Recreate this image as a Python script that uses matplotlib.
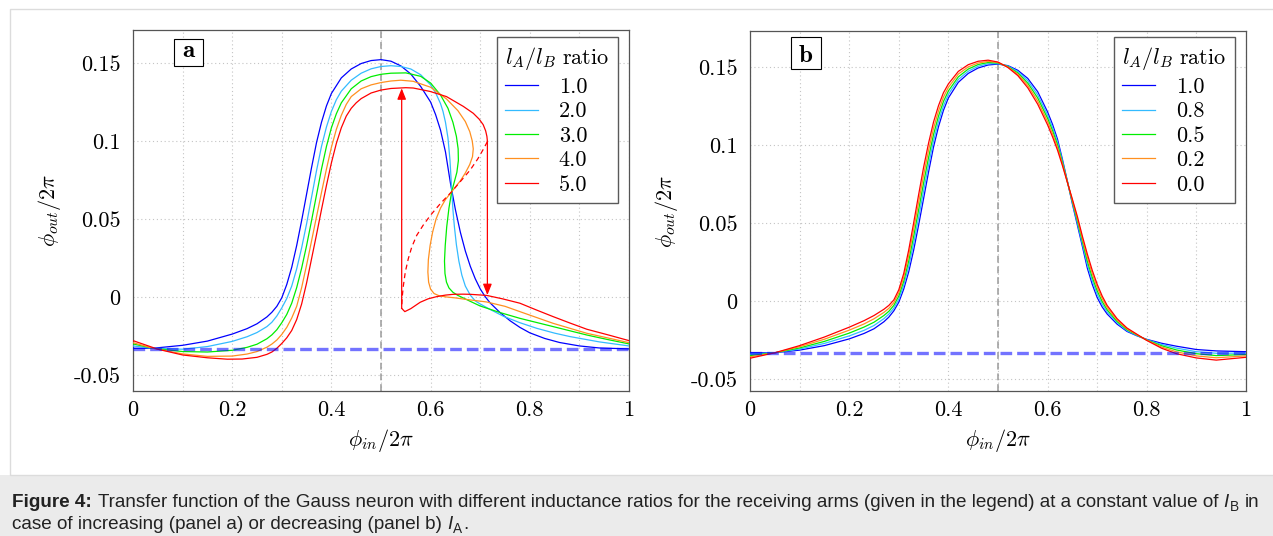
import matplotlib
matplotlib.use("Agg")
import matplotlib.pyplot as plt
from matplotlib.patches import Rectangle
from matplotlib.transforms import IdentityTransform
from matplotlib.font_manager import FontProperties

plt.rcParams['mathtext.fontset'] = 'cm'
plt.rcParams['axes.unicode_minus'] = False

# ---- data ----
A_RATIOS = ['1.0', '2.0', '3.0', '4.0', '5.0']
B_RATIOS = ['1.0', '0.8', '0.5', '0.2', '0.0']
COLORS = ['#0000ff', '#33bbff', '#00ee00', '#ff9020', '#ff0000']

X_TICKS = [0, 0.2, 0.4, 0.6, 0.8, 1.0]
X_TICK_LABELS = ['0', '0.2', '0.4', '0.6', '0.8', '1']
X_MINOR = [0.1, 0.3, 0.5, 0.7, 0.9]
Y_TICKS = [-0.05, 0, 0.05, 0.1, 0.15]
Y_TICK_LABELS = ['-0.05', '0', '0.05', '0.1', '0.15']

REST_LEVEL = -0.0333
CENTER_X = 0.5

# panel a, increasing l_A
A_BLUE_X = [0, 0.04, 0.10, 0.15, 0.20, 0.23, 0.25, 0.27, 0.28, 0.29, 0.30, 0.31, 0.32, 0.33, 0.34, 0.35,
            0.36, 0.37, 0.38, 0.39, 0.40, 0.42, 0.44, 0.46, 0.48, 0.50, 0.52, 0.54, 0.56, 0.58, 0.60,
            0.61, 0.62, 0.63, 0.64, 0.65, 0.66, 0.67, 0.68, 0.69, 0.70, 0.71, 0.72, 0.74, 0.76, 0.78,
            0.80, 0.83, 0.86, 0.90, 0.94, 1.0]
A_BLUE_Y = [-0.0329, -0.0329, -0.0310, -0.0283, -0.0238, -0.0203, -0.0172, -0.0128, -0.0098, -0.0060,
            -0.0005, 0.0080, 0.0190, 0.0330, 0.0490, 0.0660, 0.0830, 0.0990, 0.1120, 0.1225, 0.1305,
            0.1405, 0.1462, 0.1497, 0.1516, 0.1522, 0.1512, 0.1482, 0.1430, 0.1350, 0.1250,
            0.1170, 0.1070, 0.0930, 0.0730, 0.0560, 0.0415, 0.0295, 0.0197, 0.0117, 0.0052, 0.0002,
            -0.0038, -0.0100, -0.0152, -0.0195, -0.0230, -0.0266, -0.0292, -0.0314, -0.0327, -0.0333]

A_CYAN_X = [0, 0.04, 0.10, 0.15, 0.20, 0.23, 0.25, 0.27, 0.28, 0.29, 0.30, 0.31, 0.32, 0.33, 0.34, 0.35,
            0.36, 0.37, 0.38, 0.39, 0.40, 0.41, 0.42, 0.44, 0.46, 0.48, 0.50, 0.52, 0.54, 0.56, 0.58,
            0.60, 0.61, 0.62, 0.625, 0.63, 0.635, 0.639, 0.6425, 0.645, 0.648, 0.652, 0.657, 0.663,
            0.67, 0.68, 0.69, 0.70, 0.72, 0.747, 0.78, 0.814, 0.85, 0.881, 0.94, 1.0]
A_CYAN_Y = [-0.0314, -0.0329, -0.0335, -0.0318, -0.0285, -0.0255, -0.0228, -0.0190, -0.0162, -0.0122,
            -0.0070, -0.0010, 0.0070, 0.0180, 0.0315, 0.0470, 0.0640, 0.0810, 0.0965, 0.1090, 0.1190,
            0.1265, 0.1320, 0.1390, 0.1435, 0.1463, 0.1478, 0.1483, 0.1478, 0.1462, 0.1425, 0.1360,
            0.1310, 0.1240, 0.1190, 0.1120, 0.1020, 0.0880, 0.0690, 0.0560, 0.0450, 0.0335, 0.0230,
            0.0140, 0.0070, 0.0012, -0.0025, -0.0045, -0.0080, -0.0124, -0.0165, -0.0201, -0.0232,
            -0.0254, -0.0288, -0.0314]

A_GREEN_X = [0, 0.04, 0.10, 0.15, 0.20, 0.23, 0.25, 0.27, 0.28, 0.29, 0.30, 0.31, 0.32, 0.33, 0.34,
             0.35, 0.36, 0.37, 0.38, 0.39, 0.40, 0.41, 0.42, 0.44, 0.46, 0.48, 0.50, 0.52, 0.55, 0.58,
             0.60, 0.62, 0.635, 0.645, 0.652, 0.6555, 0.656, 0.653, 0.648, 0.6425, 0.637, 0.6325,
             0.6295, 0.628, 0.629, 0.632, 0.637, 0.645, 0.655, 0.665, 0.68, 0.70, 0.74, 0.78, 0.847,
             0.915, 0.96, 1.0]
A_GREEN_Y = [-0.0301, -0.0329, -0.0350, -0.0353, -0.0342, -0.0323, -0.0303, -0.0268, -0.0243, -0.0210,
             -0.0165, -0.0112, -0.0040, 0.0060, 0.0185, 0.0330, 0.0490, 0.0655, 0.0820, 0.0965,
             0.1085, 0.1175, 0.1245, 0.1335, 0.1385, 0.1413, 0.1428, 0.1435, 0.1437, 0.1415, 0.1372,
             0.1295, 0.1210, 0.1120, 0.1030, 0.0950, 0.0875, 0.0800, 0.0740, 0.0675, 0.0570, 0.0450,
             0.0330, 0.0230, 0.0150, 0.0095, 0.0058, 0.0030, 0.0010, -0.0005, -0.0028, -0.0058,
             -0.0100, -0.0137, -0.0190, -0.0244, -0.0275, -0.0301]

A_ORANGE_X = [0, 0.04, 0.10, 0.15, 0.20, 0.23, 0.25, 0.27, 0.28, 0.29, 0.30, 0.31, 0.32, 0.33, 0.34,
              0.35, 0.36, 0.37, 0.38, 0.39, 0.40, 0.41, 0.42, 0.43, 0.44, 0.46, 0.48, 0.50, 0.52, 0.54,
              0.565, 0.60, 0.632, 0.655, 0.67, 0.679, 0.684, 0.686, 0.6845, 0.679, 0.67, 0.66, 0.6425,
              0.63, 0.62, 0.611, 0.604, 0.599, 0.5955, 0.5945, 0.596, 0.600, 0.607, 0.617, 0.632,
              0.65, 0.67, 0.713, 0.75, 0.78, 0.847, 0.915, 1.0]
A_ORANGE_Y = [-0.0293, -0.0329, -0.0365, -0.0381, -0.0379, -0.0366, -0.0350, -0.0322, -0.0302, -0.0276,
              -0.0240, -0.0195, -0.0135, -0.0060, 0.0060, 0.0205, 0.0360, 0.0515, 0.0670, 0.0820,
              0.0960, 0.1075, 0.1165, 0.1235, 0.1285, 0.1335, 0.1360, 0.1375, 0.1385, 0.1390,
              0.1383, 0.1345, 0.1270, 0.1195, 0.1125, 0.1060, 0.1000, 0.0950, 0.0900, 0.0850,
              0.0795, 0.0745, 0.0675, 0.0625, 0.0570, 0.0500, 0.0415, 0.0330, 0.0240, 0.0160,
              0.0095, 0.0050, 0.0022, 0.0008, 0.0000, -0.0006, -0.0015, -0.0032, -0.0060, -0.0094,
              -0.0169, -0.0233, -0.0293]

# red (5.0): upper stable branch, unstable (dashed) branch, lower stable branch
A_RED_X = [0, 0.05, 0.10, 0.15, 0.19, 0.22, 0.25, 0.27, 0.28, 0.29, 0.30, 0.31, 0.32, 0.33, 0.34, 0.35,
           0.36, 0.37, 0.38, 0.39, 0.40, 0.41, 0.42, 0.43, 0.44, 0.45, 0.46, 0.48, 0.50, 0.52, 0.55,
           0.565, 0.599, 0.632, 0.666, 0.686, 0.698, 0.706, 0.711, 0.7135, 0.7145]
A_RED_Y = [-0.0280, -0.0335, -0.0372, -0.0390, -0.0399, -0.0398, -0.0387, -0.0368, -0.0353, -0.0329,
           -0.0298, -0.0262, -0.0215, -0.0145, -0.0045, 0.0090, 0.0245, 0.0400, 0.0560, 0.0715,
           0.0860, 0.0985, 0.1085, 0.1160, 0.1210, 0.1245, 0.1272, 0.1308, 0.1327, 0.1337, 0.1342,
           0.1340, 0.1318, 0.1285, 0.1222, 0.1178, 0.1140, 0.1105, 0.1065, 0.1030, 0.1000]
A_RED_DASH_X = [0.7145, 0.705, 0.695, 0.68, 0.66, 0.6425, 0.62, 0.60, 0.585, 0.572, 0.562, 0.555,
                0.549, 0.545, 0.5425, 0.5417]
A_RED_DASH_Y = [0.0996, 0.0940, 0.0885, 0.0815, 0.0740, 0.0675, 0.0600, 0.0525, 0.0460, 0.0395,
                0.0320, 0.0245, 0.0160, 0.0070, -0.0010, -0.0073]
A_RED_LOW_X = [0.5417, 0.548, 0.56, 0.579, 0.595, 0.612, 0.63, 0.646, 0.665, 0.68, 0.713, 0.745, 0.78,
               0.813, 0.847, 0.88, 0.915, 0.96, 1.0]
A_RED_LOW_Y = [-0.0073, -0.0094, -0.0075, -0.0034, -0.0012, 0.0002, 0.0012, 0.0017, 0.0018, 0.0017,
               0.0010, -0.0012, -0.0040, -0.0083, -0.0126, -0.0166, -0.0207, -0.0245, -0.0280]
# hysteresis jumps: x, start value, end value
JUMP_X = [0.5417, 0.7145]
JUMP_FROM = [-0.0073, 0.1000]
JUMP_TO = [0.1338, 0.0012]

# panel b, decreasing l_A (common x grid)
B_X = [0, 0.05, 0.10, 0.15, 0.20, 0.23, 0.25, 0.27, 0.28, 0.29, 0.30, 0.31, 0.32, 0.33, 0.34, 0.35,
       0.36, 0.37, 0.38, 0.39, 0.40, 0.42, 0.44, 0.46, 0.48, 0.50, 0.52, 0.54, 0.56, 0.58, 0.60,
       0.61, 0.62, 0.63, 0.64, 0.65, 0.66, 0.67, 0.68, 0.69, 0.70, 0.71, 0.72, 0.74, 0.76, 0.78,
       0.80, 0.83, 0.86, 0.90, 0.94, 1.0]
B_BLUE = [-0.0329, -0.0329, -0.0312, -0.0283, -0.0240, -0.0205, -0.0175, -0.0130, -0.0100, -0.0060,
          -0.0005, 0.0080, 0.0190, 0.0330, 0.0490, 0.0660, 0.0830, 0.0990, 0.1120, 0.1225, 0.1305,
          0.1405, 0.1462, 0.1497, 0.1516, 0.1522, 0.1512, 0.1482, 0.1430, 0.1345, 0.1215,
          0.1135, 0.1040, 0.0910, 0.0770, 0.0625, 0.0490, 0.0355, 0.0215, 0.0110, 0.0025, -0.0035,
          -0.0080, -0.0145, -0.0192, -0.0220, -0.0243, -0.0268, -0.0287, -0.0308, -0.0317, -0.0322]
B_CYAN = [-0.0338, -0.0329, -0.0305, -0.0269, -0.0221, -0.0185, -0.0154, -0.0110, -0.0081, -0.0043,
          0.0015, 0.0105, 0.0225, 0.0374, 0.0539, 0.0710, 0.0876, 0.1030, 0.1154, 0.1253, 0.1328,
          0.1423, 0.1476, 0.1508, 0.1524, 0.1525, 0.1509, 0.1474, 0.1415, 0.1325, 0.1194,
          0.1115, 0.1023, 0.0900, 0.0768, 0.0633, 0.0504, 0.0371, 0.0238, 0.0133, 0.0046, -0.0018,
          -0.0066, -0.0136, -0.0187, -0.0218, -0.0245, -0.0276, -0.0299, -0.0322, -0.0332, -0.0331]
B_GREEN = [-0.0347, -0.0329, -0.0298, -0.0256, -0.0203, -0.0164, -0.0133, -0.0090, -0.0063, -0.0025,
           0.0035, 0.0130, 0.0260, 0.0418, 0.0588, 0.0760, 0.0923, 0.1070, 0.1188, 0.1282, 0.1350,
           0.1440, 0.1490, 0.1519, 0.1532, 0.1529, 0.1506, 0.1465, 0.1400, 0.1305, 0.1174,
           0.1095, 0.1005, 0.0890, 0.0766, 0.0640, 0.0518, 0.0388, 0.0260, 0.0155, 0.0068, 0.0000,
           -0.0053, -0.0128, -0.0181, -0.0215, -0.0247, -0.0284, -0.0311, -0.0335, -0.0347, -0.0340]
B_ORANGE = [-0.0355, -0.0329, -0.0290, -0.0242, -0.0184, -0.0144, -0.0111, -0.0070, -0.0044, -0.0008,
            0.0055, 0.0155, 0.0295, 0.0461, 0.0636, 0.0810, 0.0969, 0.1110, 0.1221, 0.1310, 0.1373,
            0.1458, 0.1504, 0.1529, 0.1539, 0.1532, 0.1503, 0.1457, 0.1385, 0.1285, 0.1153,
            0.1075, 0.0988, 0.0880, 0.0764, 0.0648, 0.0531, 0.0404, 0.0283, 0.0178, 0.0089, 0.0018,
            -0.0039, -0.0119, -0.0176, -0.0213, -0.0248, -0.0292, -0.0323, -0.0349, -0.0361, -0.0349]
B_RED = [-0.0364, -0.0329, -0.0283, -0.0228, -0.0165, -0.0123, -0.0090, -0.0050, -0.0025, 0.0010,
         0.0075, 0.0180, 0.0330, 0.0505, 0.0685, 0.0860, 0.1015, 0.1150, 0.1255, 0.1338, 0.1395,
         0.1475, 0.1518, 0.1540, 0.1547, 0.1535, 0.1500, 0.1448, 0.1370, 0.1265, 0.1132,
         0.1055, 0.0970, 0.0870, 0.0762, 0.0655, 0.0545, 0.0420, 0.0305, 0.0200, 0.0110, 0.0035,
         -0.0025, -0.0110, -0.0170, -0.0210, -0.0250, -0.0300, -0.0335, -0.0362, -0.0376, -0.0358]

# ---- figure ----
W, H = 1273, 536
fig = plt.figure(figsize=(W / 100, H / 100), dpi=100)


def px_box(l, t, r, b):
    return [l / W, 1 - b / H, (r - l) / W, (b - t) / H]


# page frame + caption band
fig.add_artist(Rectangle((0, 0), 1, 61 / H, transform=fig.transFigure,
                         facecolor='#ebebeb', edgecolor='none', zorder=-5))
fig.add_artist(Rectangle((9.5 / W, 61 / H), 1, (H - 8.5 - 61) / H, transform=fig.transFigure,
                         fill=False, edgecolor='#dcdcdc', lw=1.0, zorder=-4))

ax_a = fig.add_axes(px_box(133, 30, 629, 391))
ax_b = fig.add_axes(px_box(750, 31, 1246, 391))

cm = FontProperties(family='cmr10', size=16)
GRID = dict(color='#c4c4c4', linestyle=(0, (1, 2.5)), linewidth=0.8)
LW = 0.9


def style_axes(ax, ylim):
    ax.set_xlim(0, 1)
    ax.set_ylim(*ylim)
    ax.set_xticks(X_TICKS)
    ax.set_xticklabels(X_TICK_LABELS, fontproperties=cm)
    ax.set_xticks(X_MINOR, minor=True)
    ax.set_yticks(Y_TICKS)
    ax.set_yticklabels(Y_TICK_LABELS, fontproperties=cm)
    ax.tick_params(which='both', length=0)
    ax.tick_params(axis='x', pad=7)
    ax.tick_params(axis='y', pad=9)
    ax.grid(True, which='both', axis='x', **GRID)
    ax.grid(True, which='major', axis='y', **GRID)
    ax.set_axisbelow(True)
    for s in ax.spines.values():
        s.set_color('#555555')
        s.set_linewidth(0.9)
    ax.set_xlabel(r'$\phi_{in}/2\pi$', fontsize=16)
    ax.set_ylabel(r'$\phi_{out}/2\pi$', fontsize=16)
    ax.xaxis.set_label_coords(0.5, -0.100)
    ax.yaxis.set_label_coords(-0.141, 0.5)
    ax.axvline(CENTER_X, color='#9a9a9a', lw=1.1, linestyle=(0, (4.5, 2.5)), zorder=1)


def add_legend(ax, handles, labels, anchor):
    leg = ax.legend(handles, labels, title=r'$l_A/l_B\ \mathrm{ratio}$', loc='upper right',
                    bbox_to_anchor=anchor, borderaxespad=0, prop=cm, title_fontsize=16,
                    frameon=True, fancybox=False, framealpha=1, edgecolor='#5a5a5a',
                    alignment='left', handlelength=1.45, handletextpad=0.95, borderpad=0.38,
                    labelspacing=0.22)
    leg.get_frame().set_linewidth(1.0)
    leg.set_zorder(10)
    return leg


def panel_tag(ax, tag, box, base):
    ax.add_patch(Rectangle((box[0], box[1]), box[2], box[3], transform=ax.transAxes,
                           facecolor='white', edgecolor='black', lw=0.8, zorder=11))
    ax.text(base[0], base[1], tag, transform=ax.transAxes, ha='center', va='baseline',
            fontfamily='cmb10', fontsize=18, zorder=12)


# panel a
style_axes(ax_a, (-0.0603, 0.1712))
a_curves = [(A_BLUE_X, A_BLUE_Y), (A_CYAN_X, A_CYAN_Y), (A_GREEN_X, A_GREEN_Y),
            (A_ORANGE_X, A_ORANGE_Y), (A_RED_X, A_RED_Y)]
a_lines = []
for (xs, ys), c in zip(a_curves, COLORS):
    a_lines.append(ax_a.plot(xs, ys, color=c, lw=LW, zorder=3)[0])
ax_a.plot(A_RED_DASH_X, A_RED_DASH_Y, color=COLORS[4], lw=LW, linestyle=(0, (4, 3)), zorder=3)
ax_a.plot(A_RED_LOW_X, A_RED_LOW_Y, color=COLORS[4], lw=LW, zorder=3)
for jx, y0, y1 in zip(JUMP_X, JUMP_FROM, JUMP_TO):
    ax_a.annotate('', xy=(jx, y1), xytext=(jx, y0),
                  arrowprops=dict(arrowstyle='-|>,head_length=0.55,head_width=0.22', color=COLORS[4],
                                  lw=LW, shrinkA=0, shrinkB=0, mutation_scale=12), zorder=4)
ax_a.axhline(REST_LEVEL, color='#0000ff', alpha=0.55, lw=2.4, linestyle=(0, (3.5, 1.5)), zorder=5)
add_legend(ax_a, a_lines, A_RATIOS, (0.9778, 0.9806))
panel_tag(ax_a, 'a', (0.0827, 0.9011, 0.0585, 0.0731), (0.1119, 0.9244))

# panel b
style_axes(ax_b, (-0.0574, 0.1734))
b_lines = []
for ys, c in zip([B_BLUE, B_CYAN, B_GREEN, B_ORANGE, B_RED], COLORS):
    b_lines.append(ax_b.plot(B_X, ys, color=c, lw=LW, zorder=3)[0])
ax_b.axhline(REST_LEVEL, color='#0000ff', alpha=0.55, lw=2.4, linestyle=(0, (3.5, 1.5)), zorder=5)
add_legend(ax_b, b_lines, B_RATIOS, (0.9778, 0.9833))
panel_tag(ax_b, 'b', (0.0820, 0.8944, 0.0611, 0.0898), (0.1119, 0.9131))

# ---- caption ----
CAP_FONT = 'Liberation Sans'
CAP_SIZE = 13.6
renderer = fig.canvas.get_renderer()


def text_w(s, **kw):
    t = fig.text(0, 0, s, transform=IdentityTransform(), family=CAP_FONT, fontsize=CAP_SIZE, **kw)
    w = t.get_window_extent(renderer).width
    t.remove()
    return w


SPACE = text_w('a a') - text_w('aa')


def caption_line(runs, x, y):
    for item in runs:
        if item is None:
            x += SPACE
            continue
        s, kw = item
        kw = dict(kw)
        dy = kw.pop('dy', 0)
        size = kw.pop('size', CAP_SIZE)
        t = fig.text(x, y + dy, s, transform=IdentityTransform(), family=CAP_FONT,
                     fontsize=size, va='baseline', color='#222222', **kw)
        x += t.get_window_extent(renderer).width + 0.5


SUB = dict(size=CAP_SIZE * 0.72, dy=-4)
line1 = [('Figure 4:', dict(fontweight='bold')), None,
         ('Transfer function of the Gauss neuron with different inductance ratios for the receiving arms '
          '(given in the legend) at a constant value of', {}), None,
         ('I', dict(fontstyle='italic')), ('B', SUB), None, ('in', {})]
line2 = [('case of increasing (panel a) or decreasing (panel b)', {}), None,
         ('I', dict(fontstyle='italic')), ('A', SUB), ('.', {})]
caption_line(line1, 12, H - 507)
caption_line(line2, 12, H - 529)

fig.savefig('out.png', dpi=100)
